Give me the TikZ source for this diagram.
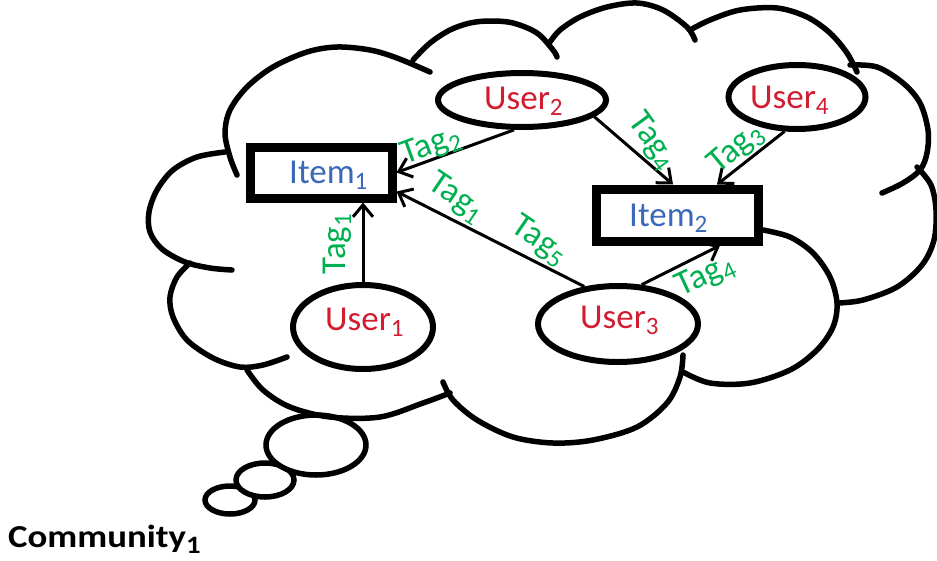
\documentclass[tikz,border=0pt]{standalone}
\usepackage{fontspec}
\setmainfont{Carlito}
\usetikzlibrary{shapes.geometric,arrows.meta,calc}

% lowered, smaller index after a word
\newcommand{\lowidx}[1]{\raisebox{-6pt}{\fontsize{25}{25}\selectfont #1}}

\definecolor{userred}{RGB}{210,28,48}
\definecolor{itemblue}{RGB}{58,104,186}
\definecolor{taggreen}{RGB}{0,176,80}

\tikzset{
  cloudline/.style={line width=5.5pt, line cap=round, line join=round},
  bubble/.style={draw, fill=white, line width=5.5pt},
  userbox/.style={ellipse, draw, fill=white, line width=6pt, inner sep=0pt},
  itembox/.style={rectangle, draw, fill=white, line width=9pt, inner sep=0pt},
  usertext/.style={text=userred, inner sep=0pt, anchor=base west,
    font=\fontsize{35}{40}\selectfont},
  itemtext/.style={text=itemblue, inner sep=0pt, anchor=base west,
    font=\fontsize{35}{40}\selectfont},
  tagtext/.style={text=taggreen, inner sep=0pt,
    font=\fontsize{35}{40}\selectfont},
  link/.style={line width=3pt, -{Straight Barb[length=12pt,width=20pt]}},
}

\begin{document}
\begin{tikzpicture}[x=1pt,y=-1pt]
\useasboundingbox (0,0) rectangle (937,560);

% thought bubbles
\path[bubble] (230,500) ellipse [x radius=25pt, y radius=14pt];
\path[bubble] (265,480) ellipse [x radius=29pt, y radius=17pt];
\path[bubble] (316,445) ellipse [x radius=50pt, y radius=30pt];

% cloud outline, one arc per bump
\draw[cloudline] plot[smooth, tension=0.55] coordinates {(225,152) (197,157) (173,170) (157,190) (149,212) (150,232) (162,249) (185,262) (210,268) (232,270)};
\draw[cloudline] plot[smooth, tension=0.55] coordinates {(237,175) (230,157) (225,133) (230,110) (247,87) (273,67) (307,52) (337,47) (370,50) (397,58) (430,72)};
\draw[cloudline] plot[smooth, tension=0.55] coordinates {(413,60) (430,43) (450,30) (470,23) (490,21) (513,23) (537,33) (553,50) (557,57)};
\draw[cloudline] plot[smooth, tension=0.55] coordinates {(550,42) (560,30) (580,17) (607,7) (637,3) (663,10) (687,27) (695,40)};
\draw[cloudline] plot[smooth, tension=0.55] coordinates {(690,30) (710,20) (740,10) (777,8) (807,17) (830,33) (847,53) (857,72)};
\draw[cloudline] plot[smooth, tension=0.55] coordinates {(850,65) (877,67) (903,83) (920,103) (928,130) (927,153) (920,170) (903,183) (882,193)};
\draw[cloudline] plot[smooth, tension=0.55] coordinates {(917,167) (931,185) (936,210) (934,240) (922,265) (897,287) (863,300) (838,303)};
\draw[cloudline] plot[smooth, tension=0.55] coordinates {(763,230) (790,237) (813,253) (830,277) (837,303) (833,327) (817,350) (790,370) (750,383) (710,383) (683,372)};
\draw[cloudline] plot[smooth, tension=0.55] coordinates {(683,355) (680,377) (667,403) (637,427) (593,440) (553,443) (513,437) (477,420) (453,400) (443,382)};
\draw[cloudline] plot[smooth, tension=0.55] coordinates {(450,393) (423,403) (380,417) (330,417) (290,407) (263,390) (247,370)};
\draw[cloudline] plot[smooth, tension=0.55] coordinates {(287,357) (263,365) (240,367) (213,358) (187,340) (173,317) (170,297) (177,277) (190,263)};

% users and items
\node[userbox, minimum width=168pt, minimum height=54pt] (u2) at (522,100) {};
\node[userbox, minimum width=137pt, minimum height=64pt] (u4) at (797,97) {};
\node[userbox, minimum width=140pt, minimum height=84pt] (u1) at (363,327) {};
\node[userbox, minimum width=160pt, minimum height=76pt] (u3) at (618,324) {};
\node[itembox, minimum width=142pt, minimum height=51pt] (i1) at (321,172.5) {};
\node[itembox, minimum width=162pt, minimum height=52pt] (i2) at (677,215) {};

\node[usertext] (u2t) at (484,109) {User\lowidx{2}};
\node[usertext] (u4t) at (750,108) {User\lowidx{4}};
\node[usertext] (u1t) at (325,330) {User\lowidx{1}};
\node[usertext] (u3t) at (580,328) {User\lowidx{3}};
\node[itemtext] (i1t) at (289,183) {Item\lowidx{1}};
\node[itemtext] (i2t) at (629,226) {Item\lowidx{2}};

% tagging links
\draw[link] (u1.north) -- (u1.north |- i1.south);
\draw[link] (u2.255) -- (i1.east);
\draw[link] (u3.132) -- ($(i1.east)+(0,19)$);
\draw[link] (u2.-13) -- ($(i2.north)+(-4,0)$);
\draw[link] (u4.250) -- ($(i2.north)+(40,0)$);
\draw[link] (u3.59) -- ($(i2.south)+(43,0)$);

% tag labels
\node[tagtext, rotate=90] (t1a) at (337,244) {Tag\lowidx{1}};
\node[tagtext, rotate=20] (t2) at (431,146) {Tag\lowidx{2}};
\node[tagtext, rotate=-34] (t1b) at (456,198) {Tag\lowidx{1}};
\node[tagtext, rotate=-34] (t5) at (539,241) {Tag\lowidx{5}};
\node[tagtext, rotate=-54] (t4a) at (652,141) {Tag\lowidx{4}};
\node[tagtext, rotate=40] (t3) at (736,149) {Tag\lowidx{3}};
\node[tagtext, rotate=25] (t4b) at (705,276) {Tag\lowidx{4}};

% caption
\node[anchor=base west, inner sep=0pt, font=\bfseries\fontsize{32}{36}\selectfont] (comm) at (8,547) {\scalebox{1.15}[1]{Community\lowidx{1}}};
\end{tikzpicture}
\end{document}
